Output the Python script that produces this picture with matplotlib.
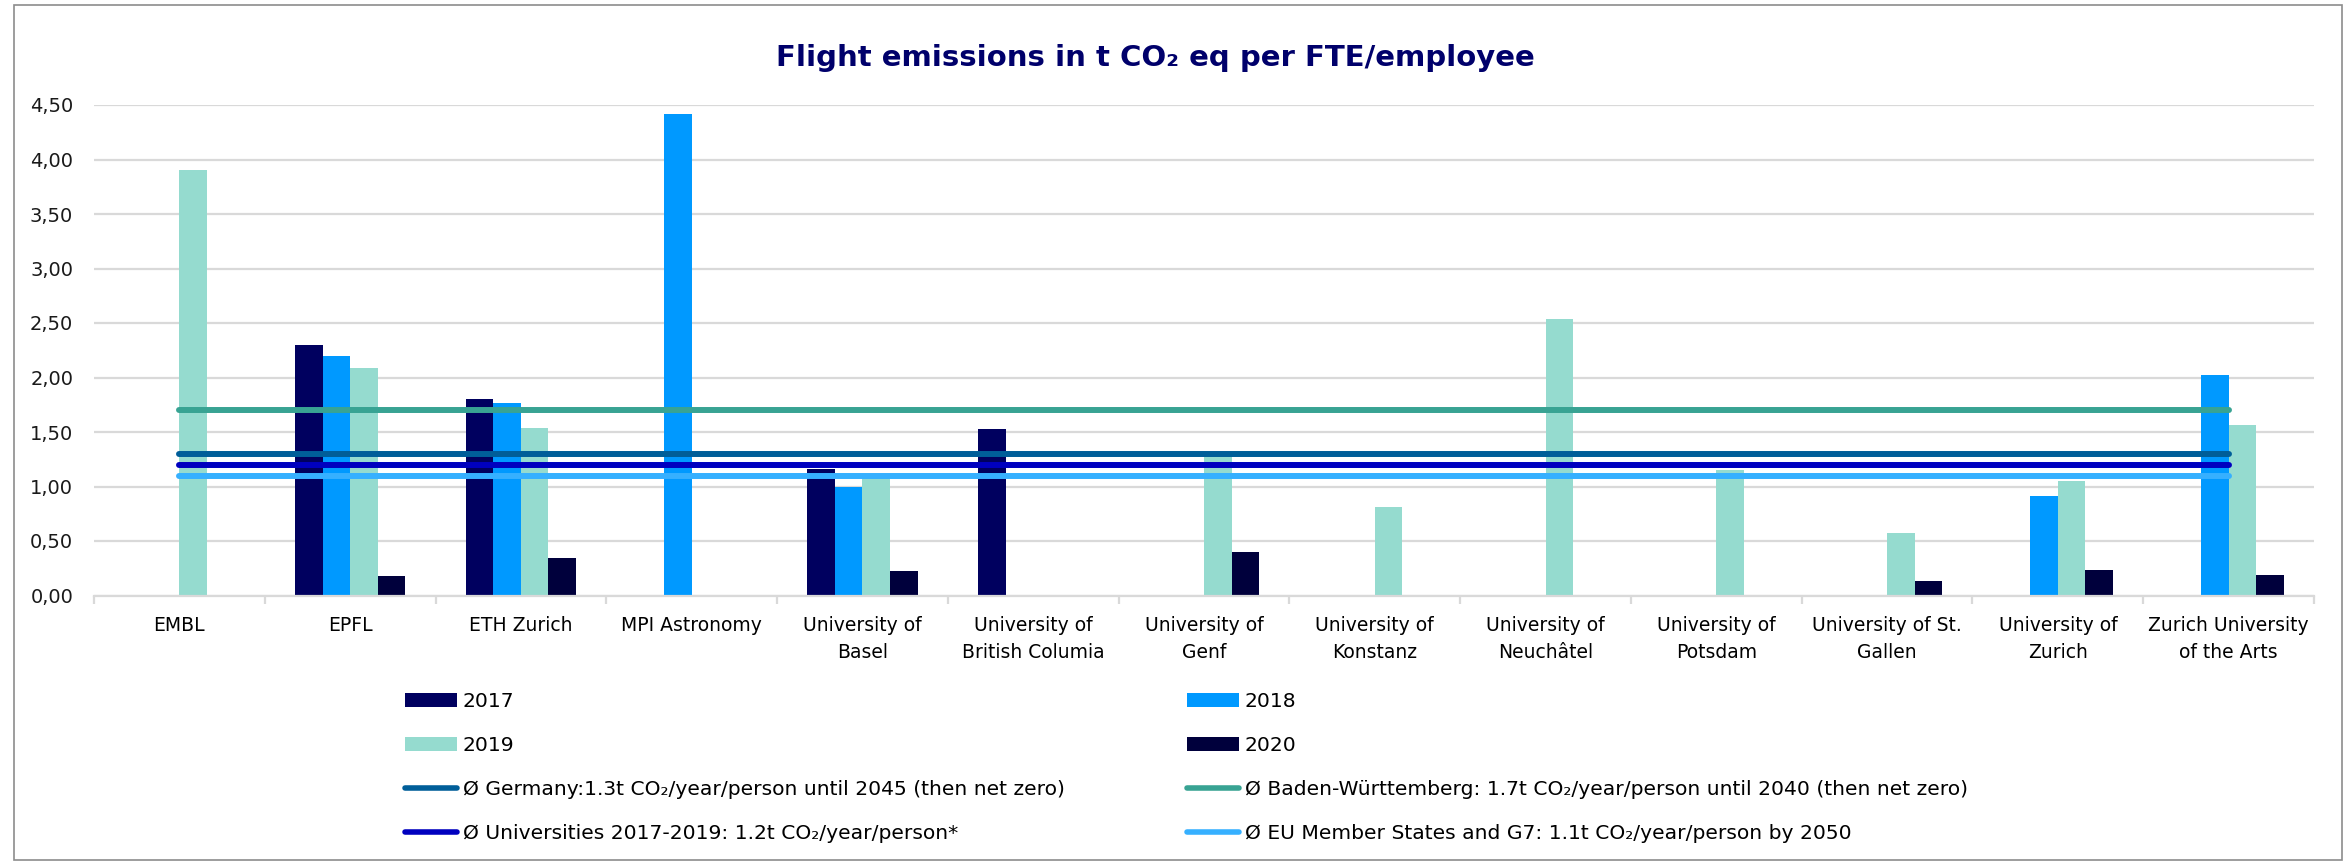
import matplotlib
matplotlib.use("Agg")
import matplotlib.pyplot as plt
import numpy as np
from matplotlib.patches import Rectangle, Patch
from matplotlib.lines import Line2D

# ---------------- data ----------------
categories = ["EMBL", "EPFL", "ETH Zurich", "MPI Astronomy",
              "University of\nBasel", "University of\nBritish Columia",
              "University of\nGenf", "University of\nKonstanz",
              "University of\nNeuchâtel", "University of\nPotsdam",
              "University of St.\nGallen", "University of\nZurich",
              "Zurich University\nof the Arts"]
nan = np.nan
y2017 = [nan, 2.30, 1.80, nan, 1.16, 1.53, nan, nan, nan, nan, nan, nan, nan]
y2018 = [nan, 2.20, 1.765, 4.42, 1.00, nan, nan, nan, nan, nan, nan, 0.91, 2.02]
y2019 = [3.90, 2.09, 1.535, nan, 1.075, nan, 1.28, 0.81, 2.535, 1.155, 0.57, 1.05, 1.565]
y2020 = [nan, 0.18, 0.345, nan, 0.225, nan, 0.395, nan, nan, nan, 0.13, 0.23, 0.19]
bar_series = ["2017", "2018", "2019", "2020"]

ref_labels = ["Ø Germany:1.3t CO₂/year/person until 2045 (then net zero)",
              "Ø Baden-Württemberg: 1.7t CO₂/year/person until 2040 (then net zero)",
              "Ø Universities 2017-2019: 1.2t CO₂/year/person*",
              "Ø EU Member States and G7: 1.1t CO₂/year/person by 2050"]
ref_values = [1.3, 1.7, 1.2, 1.1]

yticks = [0, 0.5, 1.0, 1.5, 2.0, 2.5, 3.0, 3.5, 4.0, 4.5]
title = "Flight emissions in t CO₂ eq per FTE/employee"

# ---------------- style ----------------
bar_colors = ["#00005F", "#0099FF", "#95DBCF", "#00003C"]
ref_colors = ["#005E99", "#38A393", "#0000BF", "#36B0FF"]
grid_c = "#D9D9D9"

leg_size = 14.6
fpx = leg_size * 100 / 72
leg_ls = (46.0 - 1.03 * fpx) / fpx

W, H = 2344, 865
fig = plt.figure(figsize=(W / 100, H / 100), dpi=100)
fig.patch.set_facecolor("white")

# outer frame
fig.add_artist(Rectangle((14 / W, 5 / H), (2342 - 14) / W, (860 - 5) / H,
                         transform=fig.transFigure, fill=False,
                         edgecolor="#8C8C8C", lw=1.2))

left, right, top, bottom = 94, 2314, 105, 595.5
ax = fig.add_axes([left / W, 1 - bottom / H, (right - left) / W, (bottom - top) / H])

n = len(categories)
x = np.arange(n)
gap = 0.55
bw = 1 / (1 + gap) / 4
series = [y2017, y2018, y2019, y2020]
for i, (vals, col) in enumerate(zip(series, bar_colors)):
    v = np.array(vals, dtype=float)
    m = ~np.isnan(v)
    off = (i - 1.5) * bw
    ax.bar(x[m] + off, v[m], width=bw, color=col, zorder=2, linewidth=0)

for val, col in zip(ref_values, ref_colors):
    ax.plot(x, np.full(n, val), color=col, lw=4.3, solid_capstyle="round", zorder=3)

ax.set_xlim(-0.5, n - 0.5)
ax.set_ylim(0, 4.5)
ax.set_yticks(yticks)
ax.set_yticklabels([f"{t:.2f}".replace(".", ",") for t in yticks])
ax.yaxis.grid(True, color=grid_c, lw=1.6, zorder=0)
ax.set_axisbelow(True)
ax.tick_params(axis="y", length=0, pad=15, labelsize=14, labelcolor="#1A1A1A")

ax.set_xticks(np.arange(-0.5, n, 1.0))
ax.set_xticklabels([])
ax.tick_params(axis="x", which="major", length=6, width=1.6, color=grid_c)
ax.set_xticks(x, minor=True)
ax.set_xticklabels(categories, minor=True, fontsize=13.5, linespacing=1.5)
ax.tick_params(axis="x", which="minor", length=0, pad=15, labelcolor="#000000")

for s in ["left", "right", "top"]:
    ax.spines[s].set_visible(False)
ax.spines["bottom"].set_color(grid_c)
ax.spines["bottom"].set_linewidth(1.6)

fig.text(1155 / W, 1 - 58 / H, title, ha="center", va="center",
         fontsize=21, fontweight="bold", color="#00006B")

# legends (two columns, row-major order like the original)
bar_h = [Patch(facecolor=c, edgecolor="none") for c in bar_colors]
line_h = [Line2D([], [], color=c, lw=4.0, solid_capstyle="round") for c in ref_colors]

col1_h = [bar_h[0], bar_h[2], line_h[0], line_h[2]]
col1_l = [bar_series[0], bar_series[2], ref_labels[0], ref_labels[2]]
col2_h = [bar_h[1], bar_h[3], line_h[1], line_h[3]]
col2_l = [bar_series[1], bar_series[3], ref_labels[1], ref_labels[3]]

kw = dict(frameon=False, fontsize=leg_size, handlelength=52 / fpx, handleheight=14 / fpx,
          handletextpad=6 / fpx, labelspacing=leg_ls, borderpad=0, borderaxespad=0,
          loc="upper left")
leg1 = fig.legend(col1_h, col1_l, bbox_to_anchor=(405 / W, 1 - 692 / H), **kw)
leg2 = fig.legend(col2_h, col2_l, bbox_to_anchor=(1187 / W, 1 - 692 / H), **kw)

fig.savefig("out.png", dpi=100, facecolor="white")
